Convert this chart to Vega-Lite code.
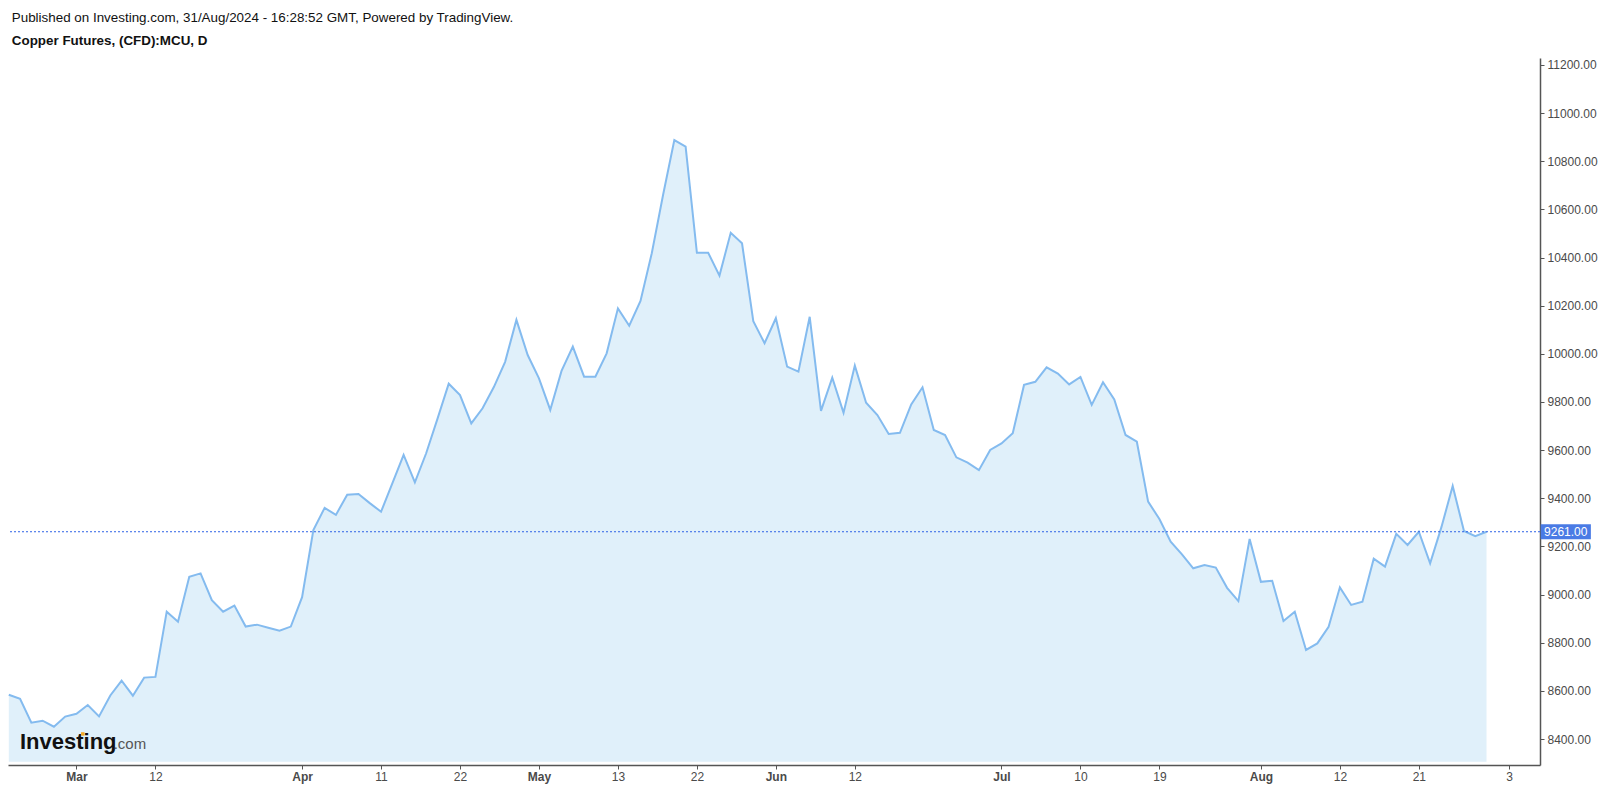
{
  "$schema": "https://vega.github.io/schema/vega-lite/v6.json",
  "width": 1532,
  "height": 707,
  "autosize": {"type": "none"},
  "padding": {"left": 8, "top": 58, "right": 62, "bottom": 24},
  "background": "white",
  "config": {"view": {"stroke": null}, "font": "Liberation Sans"},
  "title": {
    "text": "Published on Investing.com, 31/Aug/2024 - 16:28:52 GMT, Powered by TradingView.",
    "subtitle": "Copper Futures, (CFD):MCU, D",
    "anchor": "start",
    "dx": 7,
    "offset": 11,
    "font": "Liberation Sans",
    "fontSize": 13.4,
    "fontWeight": "normal",
    "color": "#111111",
    "subtitleFont": "Liberation Sans",
    "subtitleFontSize": 13.4,
    "subtitleFontWeight": "bold",
    "subtitleColor": "#111111",
    "subtitlePadding": 9
  },
  "data": {
    "values": [
      {"i": 0, "date": "2024-02-22", "close": 8584},
      {"i": 1, "date": "2024-02-23", "close": 8567},
      {"i": 2, "date": "2024-02-26", "close": 8468},
      {"i": 3, "date": "2024-02-27", "close": 8476},
      {"i": 4, "date": "2024-02-28", "close": 8451},
      {"i": 5, "date": "2024-02-29", "close": 8493},
      {"i": 6, "date": "2024-03-01", "close": 8505},
      {"i": 7, "date": "2024-03-04", "close": 8541},
      {"i": 8, "date": "2024-03-05", "close": 8494},
      {"i": 9, "date": "2024-03-06", "close": 8581},
      {"i": 10, "date": "2024-03-07", "close": 8642},
      {"i": 11, "date": "2024-03-08", "close": 8580},
      {"i": 12, "date": "2024-03-11", "close": 8655},
      {"i": 13, "date": "2024-03-12", "close": 8658},
      {"i": 14, "date": "2024-03-13", "close": 8929},
      {"i": 15, "date": "2024-03-14", "close": 8887},
      {"i": 16, "date": "2024-03-15", "close": 9074},
      {"i": 17, "date": "2024-03-18", "close": 9088},
      {"i": 18, "date": "2024-03-19", "close": 8977},
      {"i": 19, "date": "2024-03-20", "close": 8929},
      {"i": 20, "date": "2024-03-21", "close": 8954},
      {"i": 21, "date": "2024-03-22", "close": 8867},
      {"i": 22, "date": "2024-03-25", "close": 8875},
      {"i": 23, "date": "2024-03-26", "close": 8862},
      {"i": 24, "date": "2024-03-27", "close": 8850},
      {"i": 25, "date": "2024-03-28", "close": 8867},
      {"i": 26, "date": "2024-04-02", "close": 8989},
      {"i": 27, "date": "2024-04-03", "close": 9268},
      {"i": 28, "date": "2024-04-04", "close": 9360},
      {"i": 29, "date": "2024-04-05", "close": 9331},
      {"i": 30, "date": "2024-04-08", "close": 9415},
      {"i": 31, "date": "2024-04-09", "close": 9418},
      {"i": 32, "date": "2024-04-10", "close": 9380},
      {"i": 33, "date": "2024-04-11", "close": 9344},
      {"i": 34, "date": "2024-04-12", "close": 9462},
      {"i": 35, "date": "2024-04-15", "close": 9580},
      {"i": 36, "date": "2024-04-16", "close": 9466},
      {"i": 37, "date": "2024-04-17", "close": 9587},
      {"i": 38, "date": "2024-04-18", "close": 9730},
      {"i": 39, "date": "2024-04-19", "close": 9876},
      {"i": 40, "date": "2024-04-22", "close": 9829},
      {"i": 41, "date": "2024-04-23", "close": 9711},
      {"i": 42, "date": "2024-04-24", "close": 9774},
      {"i": 43, "date": "2024-04-25", "close": 9862},
      {"i": 44, "date": "2024-04-26", "close": 9967},
      {"i": 45, "date": "2024-04-29", "close": 10141},
      {"i": 46, "date": "2024-04-30", "close": 9995},
      {"i": 47, "date": "2024-05-01", "close": 9898},
      {"i": 48, "date": "2024-05-02", "close": 9767},
      {"i": 49, "date": "2024-05-03", "close": 9929},
      {"i": 50, "date": "2024-05-07", "close": 10030},
      {"i": 51, "date": "2024-05-08", "close": 9905},
      {"i": 52, "date": "2024-05-09", "close": 9905},
      {"i": 53, "date": "2024-05-10", "close": 10002},
      {"i": 54, "date": "2024-05-13", "close": 10189},
      {"i": 55, "date": "2024-05-14", "close": 10117},
      {"i": 56, "date": "2024-05-15", "close": 10220},
      {"i": 57, "date": "2024-05-16", "close": 10418},
      {"i": 58, "date": "2024-05-17", "close": 10660},
      {"i": 59, "date": "2024-05-20", "close": 10888},
      {"i": 60, "date": "2024-05-21", "close": 10861},
      {"i": 61, "date": "2024-05-22", "close": 10420},
      {"i": 62, "date": "2024-05-23", "close": 10420},
      {"i": 63, "date": "2024-05-24", "close": 10325},
      {"i": 64, "date": "2024-05-28", "close": 10503},
      {"i": 65, "date": "2024-05-29", "close": 10459},
      {"i": 66, "date": "2024-05-30", "close": 10136},
      {"i": 67, "date": "2024-05-31", "close": 10044},
      {"i": 68, "date": "2024-06-03", "close": 10148},
      {"i": 69, "date": "2024-06-04", "close": 9947},
      {"i": 70, "date": "2024-06-05", "close": 9926},
      {"i": 71, "date": "2024-06-06", "close": 10154},
      {"i": 72, "date": "2024-06-07", "close": 9763},
      {"i": 73, "date": "2024-06-10", "close": 9901},
      {"i": 74, "date": "2024-06-11", "close": 9755},
      {"i": 75, "date": "2024-06-12", "close": 9951},
      {"i": 76, "date": "2024-06-13", "close": 9797},
      {"i": 77, "date": "2024-06-14", "close": 9746},
      {"i": 78, "date": "2024-06-17", "close": 9667},
      {"i": 79, "date": "2024-06-18", "close": 9672},
      {"i": 80, "date": "2024-06-19", "close": 9790},
      {"i": 81, "date": "2024-06-20", "close": 9861},
      {"i": 82, "date": "2024-06-21", "close": 9684},
      {"i": 83, "date": "2024-06-24", "close": 9663},
      {"i": 84, "date": "2024-06-25", "close": 9570},
      {"i": 85, "date": "2024-06-26", "close": 9548},
      {"i": 86, "date": "2024-06-27", "close": 9517},
      {"i": 87, "date": "2024-06-28", "close": 9601},
      {"i": 88, "date": "2024-07-01", "close": 9628},
      {"i": 89, "date": "2024-07-02", "close": 9670},
      {"i": 90, "date": "2024-07-03", "close": 9871},
      {"i": 91, "date": "2024-07-04", "close": 9884},
      {"i": 92, "date": "2024-07-05", "close": 9944},
      {"i": 93, "date": "2024-07-08", "close": 9918},
      {"i": 94, "date": "2024-07-09", "close": 9873},
      {"i": 95, "date": "2024-07-10", "close": 9904},
      {"i": 96, "date": "2024-07-11", "close": 9788},
      {"i": 97, "date": "2024-07-12", "close": 9882},
      {"i": 98, "date": "2024-07-15", "close": 9811},
      {"i": 99, "date": "2024-07-16", "close": 9663},
      {"i": 100, "date": "2024-07-17", "close": 9635},
      {"i": 101, "date": "2024-07-18", "close": 9386},
      {"i": 102, "date": "2024-07-19", "close": 9314},
      {"i": 103, "date": "2024-07-22", "close": 9220},
      {"i": 104, "date": "2024-07-23", "close": 9167},
      {"i": 105, "date": "2024-07-24", "close": 9109},
      {"i": 106, "date": "2024-07-25", "close": 9123},
      {"i": 107, "date": "2024-07-26", "close": 9112},
      {"i": 108, "date": "2024-07-29", "close": 9028},
      {"i": 109, "date": "2024-07-30", "close": 8973},
      {"i": 110, "date": "2024-07-31", "close": 9231},
      {"i": 111, "date": "2024-08-01", "close": 9053},
      {"i": 112, "date": "2024-08-02", "close": 9057},
      {"i": 113, "date": "2024-08-05", "close": 8890},
      {"i": 114, "date": "2024-08-06", "close": 8929},
      {"i": 115, "date": "2024-08-07", "close": 8770},
      {"i": 116, "date": "2024-08-08", "close": 8797},
      {"i": 117, "date": "2024-08-09", "close": 8866},
      {"i": 118, "date": "2024-08-12", "close": 9030},
      {"i": 119, "date": "2024-08-13", "close": 8957},
      {"i": 120, "date": "2024-08-14", "close": 8970},
      {"i": 121, "date": "2024-08-15", "close": 9149},
      {"i": 122, "date": "2024-08-16", "close": 9116},
      {"i": 123, "date": "2024-08-19", "close": 9252},
      {"i": 124, "date": "2024-08-20", "close": 9206},
      {"i": 125, "date": "2024-08-21", "close": 9261},
      {"i": 126, "date": "2024-08-22", "close": 9130},
      {"i": 127, "date": "2024-08-23", "close": 9280},
      {"i": 128, "date": "2024-08-27", "close": 9451},
      {"i": 129, "date": "2024-08-28", "close": 9264},
      {"i": 130, "date": "2024-08-29", "close": 9243},
      {"i": 131, "date": "2024-08-30", "close": 9261}
    ]
  },
  "layer": [
    {
      "mark": {"type": "area", "color": "#e0f0fa"},
      "encoding": {
        "x": {
          "field": "i",
          "type": "quantitative",
          "scale": {"domain": [-0.07, 135.74], "nice": false, "zero": false},
          "axis": {
            "title": null,
            "grid": false,
            "orient": "bottom",
            "values": [6, 13, 26, 33, 40, 47, 54, 61, 68, 75, 88, 95, 102, 111, 118, 125, 133],
            "labelExpr": "['Mar','12','Apr','11','22','May','13','22','Jun','12','Jul','10','19','Aug','12','21','3'][indexof([6,13,26,33,40,47,54,61,68,75,88,95,102,111,118,125,133], datum.value)]",
            "labelFontWeight": {"condition": {"test": "indexof([6,26,47,68,88,111], datum.value) >= 0", "value": "bold"}, "value": "normal"},
            "labelFont": "Liberation Sans",
            "labelFontSize": 12,
            "labelColor": "#4a4a4a",
            "labelPadding": 2,
            "labelFlush": false,
            "labelOverlap": false,
            "domainColor": "#555555",
            "domainWidth": 1.5,
            "tickColor": "#555555",
            "tickSize": 4
          }
        },
        "y": {
          "field": "close",
          "type": "quantitative",
          "scale": {"domain": [8292, 11229], "nice": false, "zero": false},
          "axis": {
            "title": null,
            "grid": false,
            "orient": "right",
            "values": [8400, 8600, 8800, 9000, 9200, 9400, 9600, 9800, 10000, 10200, 10400, 10600, 10800, 11000, 11200],
            "format": ".2f",
            "labelFont": "Liberation Sans",
            "labelFontSize": 12,
            "labelColor": "#4a4a4a",
            "labelPadding": 3,
            "labelFlush": false,
            "labelOverlap": false,
            "domainColor": "#555555",
            "domainWidth": 1.5,
            "tickColor": "#555555",
            "tickSize": 4
          }
        },
        "y2": {"datum": 8305}
      }
    },
    {
      "mark": {"type": "line", "color": "#84bbef", "strokeWidth": 2},
      "encoding": {
        "x": {"field": "i", "type": "quantitative"},
        "y": {"field": "close", "type": "quantitative"}
      }
    },
    {
      "data": {"values": [{}]},
      "mark": {"type": "rule", "color": "#2f62e6", "strokeWidth": 1, "strokeDash": [2, 2]},
      "encoding": {
        "y": {"datum": 9261, "type": "quantitative", "title": null}
      }
    },
    {
      "data": {"values": [{}]},
      "mark": {"type": "rect", "color": "#4a7be5", "clip": false},
      "encoding": {
        "x": {"datum": 135.8, "type": "quantitative", "title": null},
        "x2": {"datum": 140.25},
        "y": {"datum": 9230, "type": "quantitative", "title": null},
        "y2": {"datum": 9292}
      }
    },
    {
      "data": {"values": [{}]},
      "mark": {"type": "text", "color": "#ffffff", "fontSize": 12, "font": "Liberation Sans", "align": "center", "baseline": "middle", "clip": false},
      "encoding": {
        "x": {"datum": 138.02, "type": "quantitative", "title": null},
        "y": {"datum": 9261, "type": "quantitative", "title": null},
        "text": {"value": "9261.00"}
      }
    },
    {
      "data": {"values": [{}]},
      "mark": {"type": "text", "color": "#111111", "fontSize": 22, "fontWeight": "bold", "font": "Liberation Sans", "letterSpacing": -0.6, "align": "left", "baseline": "alphabetic"},
      "encoding": {
        "x": {"datum": 0.99, "type": "quantitative", "title": null},
        "y": {"datum": 8358, "type": "quantitative", "title": null},
        "text": {"value": "Investing"}
      }
    },
    {
      "data": {"values": [{}]},
      "mark": {"type": "point", "shape": "square", "filled": true, "color": "#f5a623", "size": 12, "opacity": 1},
      "encoding": {
        "x": {"datum": 6.56, "type": "quantitative", "title": null},
        "y": {"datum": 8421, "type": "quantitative", "title": null}
      }
    },
    {
      "data": {"values": [{}]},
      "mark": {"type": "text", "color": "#555555", "fontSize": 15, "font": "Liberation Sans", "letterSpacing": -0.5, "align": "left", "baseline": "alphabetic"},
      "encoding": {
        "x": {"datum": 9.3, "type": "quantitative", "title": null},
        "y": {"datum": 8358, "type": "quantitative", "title": null},
        "text": {"value": ".com"}
      }
    }
  ]
}
